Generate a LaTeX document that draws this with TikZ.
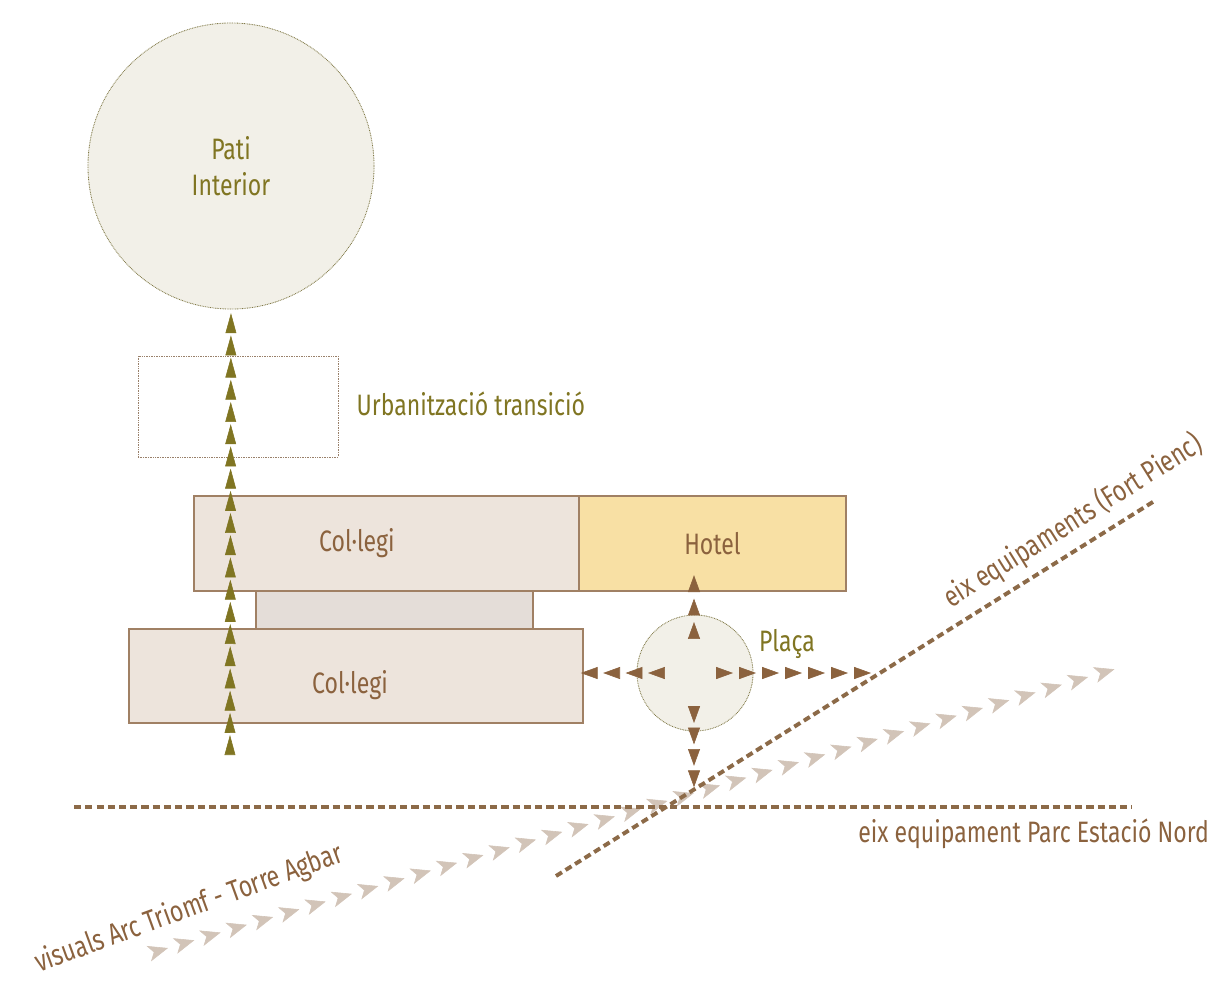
\documentclass[tikz,border=0pt]{standalone}
\usepackage{fontspec}
\setmainfont{Fira Sans}[FakeStretch=0.78]
\usepackage{tikz}
\usetikzlibrary{arrows.meta}
\usetikzlibrary{decorations.markings}
\usetikzlibrary{calc}
\definecolor{oliva}{RGB}{128,117,34}
\definecolor{marro}{RGB}{139,98,62}
\definecolor{vora}{RGB}{160,128,100}
\definecolor{pedra}{RGB}{237,228,220}
\definecolor{pedra_f}{RGB}{228,221,216}
\definecolor{groc}{RGB}{248,224,164}
\definecolor{sorra}{RGB}{242,240,232}
\definecolor{traç}{RGB}{140,106,72}
\definecolor{visual}{RGB}{210,196,184}
\tikzset{
  rotul/.style = {inner sep=0pt, font=\fontsize{21}{26}\selectfont},
  rotul_o/.style = {rotul, text=oliva},% rotul oliva
  rotul_m/.style = {rotul, text=marro},% rotul marro
  edif/.style = {rectangle, draw=vora, line width=0.9pt, inner sep=0pt},
  edif_c/.style = {edif, fill=pedra},% edifici, col.legi
  edif_h/.style = {edif, fill=groc},% edifici, hotel
  edif_p/.style = {edif, fill=pedra_f},% edifici, pont
  espai/.style = {circle, fill=sorra, draw=oliva!60!gray,
    line width=0.6pt, dash pattern=on 0.6pt off 0.6pt, inner sep=0pt},% espai obert
  eix/.style = {draw=traç, line width=2.8pt, dash pattern=on 5pt off 3pt},
  cadena/.style 2 args = {postaction={decorate}, decoration={markings,
    mark=between positions 0 and 1 step #1 with {\arrow{#2}}}}
}

\begin{document}
\begin{tikzpicture}[x=0.025cm,y=-0.025cm]
\useasboundingbox (0,0) rectangle (1216,981);
% espais i edificis
\node [espai, minimum size=7.15cm, align=center, rotul_o] (pati) at (231,166) {Pati\\Interior};
\node [edif, fill=none, draw=vora!80!gray, line width=0.6pt, dash pattern=on 0.6pt off 0.6pt,
  minimum width=5cm, minimum height=2.525cm] (urb) at (238,406.5) {};
\node [edif_p, minimum width=6.925cm, minimum height=0.95cm] (pont) at (394.5,610) {};
\node [edif_c, minimum width=9.625cm, minimum height=2.375cm] (col1) at (386.5,543.5) {};
\node [edif_h, minimum width=6.675cm, minimum height=2.375cm, rotul_m] (hotel) at (712.5,543.5) {Hotel};
\node [edif_c, minimum width=11.35cm, minimum height=2.35cm] (col2) at (356,676) {};
\node [espai, minimum size=2.9cm] (placa) at (695,673) {};
\node at (col1) [rotul_m, xshift=-0.74cm] {Col·legi};
\node at (col2) [rotul_m, xshift=-0.15cm, yshift=-0.22cm] {Col·legi};
\node at (placa) [rotul_o, xshift=2.3cm, yshift=0.72cm] {Plaça};
\node at (urb.east) [rotul_o, anchor=west, xshift=0.45cm, yshift=0.06cm] {Urbanització transició};
% visuals
\coordinate (vis_a) at (168,948);
\coordinate (vis_b) at (1122,667);
\path [visual, cadena={0.685cm}{Stealth[length=0.5cm,width=0.4cm,inset=0.13cm]}] (vis_a) -- (vis_b);
\node at (189,909) [rotul_m, rotate=20] {visuals Arc Triomf - Torre Agbar};
% eixos
\coordinate (eix_a) at (74,807);
\coordinate (eix_b) at (1132,807);
\coordinate (eix_c) at (556,876);
\coordinate (eix_d) at (1156,500);
\draw [eix] (eix_a) -- (eix_b);
\draw [eix] (eix_c) -- (eix_d);
\node at (858,834) [rotul_m, anchor=west] {eix equipament Parc Estació Nord};
\node at (1073,521) [rotul_m, rotate=32] {eix equipaments (Fort Pienc)};
% recorreguts
\coordinate (v_base) at (230,735);
\path [oliva, cadena={0.555cm}{Triangle[length=0.5cm,width=0.27cm]}] (v_base) -- ($(pati.south)+(0,-6)$);
\coordinate (p_n) at (694,622);
\coordinate (p_s) at (694,723);
\coordinate (p_w) at (648,673);
\coordinate (p_e) at (733,673);
\path [marro, cadena={0.585cm}{Triangle[length=0.42cm,width=0.3cm]}] (p_n) -- ($(p_n)+(0,-47)$);
\path [marro, cadena={0.535cm}{Triangle[length=0.42cm,width=0.3cm]}] (p_s) -- (p_s |- eix_a);
\path [marro, cadena={0.56cm}{Triangle[length=0.42cm,width=0.3cm]}] (p_w) -- ($(p_w)+(-68,0)$);
\path [marro, cadena={0.575cm}{Triangle[length=0.42cm,width=0.3cm]}] (p_e) -- ($(p_e)+(139,0)$);
\end{tikzpicture}
\end{document}
